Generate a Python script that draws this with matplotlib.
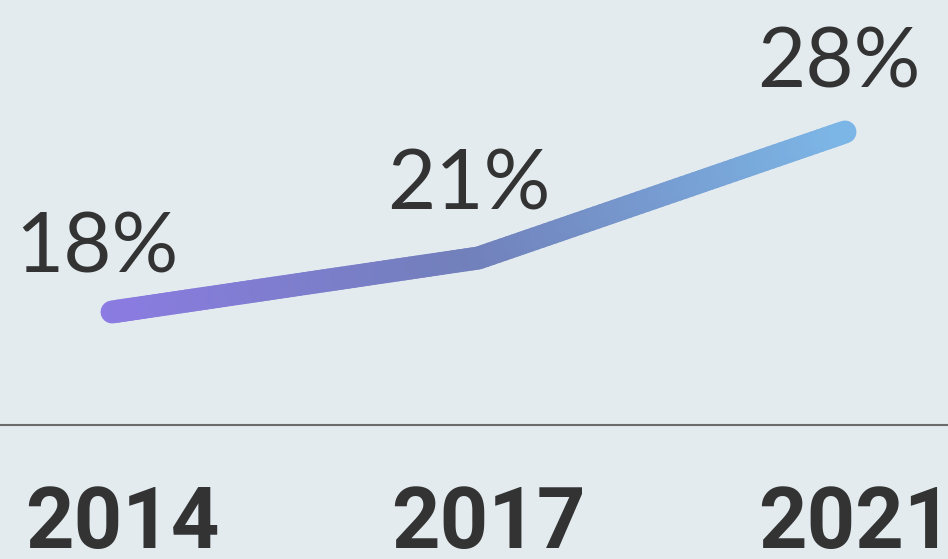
import numpy as np
import matplotlib
matplotlib.use("Agg")
import matplotlib.pyplot as plt
from matplotlib.collections import LineCollection
from matplotlib.colors import LinearSegmentedColormap

# data
years = ["2014", "2017", "2021"]
values = [18, 21, 28]
labels = ["18%", "21%", "28%"]

bg = "#e3ebef"
ink = "#333333"
cmap = LinearSegmentedColormap.from_list(
    "grad", [(0.0, "#8b7be2"), (0.5, "#7180ba"), (1.0, "#7cb6e6")])

fig = plt.figure(figsize=(9.48, 5.59), dpi=100)
fig.patch.set_facecolor(bg)
ax = fig.add_axes([0, 0, 1, 1])
ax.set_facecolor(bg)
ax.set_xlim(-0.3056, 2.281)
ax.set_ylim(4.28, 35.33)
ax.axis("off")

# gradient line: split each leg into short pieces for the colour ramp
xs = np.arange(len(values))
segs, cols = [], []
for i in range(len(values) - 1):
    t = np.linspace(0, 1, 60)
    px = xs[i] + (xs[i + 1] - xs[i]) * t
    py = values[i] + (values[i + 1] - values[i]) * t
    for j in range(len(t) - 1):
        segs.append([(px[j], py[j]), (px[j + 1], py[j + 1])])
        cols.append((px[j] + px[j + 1]) / 2 / xs[-1])
lc = LineCollection(segs, colors=cmap(np.array(cols)), linewidths=16.5,
                    capstyle="round", joinstyle="round")
ax.add_collection(lc)

# value labels (offsets in pixels)
dx = [-15, -10, -6]
dy = [24, 33, 29]
for x, v, lab, ox, oy in zip(xs, values, labels, dx, dy):
    ax.annotate(lab, (x, v), xytext=(ox * 0.72, oy * 0.72),
                textcoords="offset points", ha="center", va="bottom",
                fontsize=60, color=ink, family="Lato")

# baseline
ax.axhline(11.72, color="#6b6b6b", lw=1.5)

# year labels
for x, y in zip(xs, years):
    ax.text(x + 0.028, 0.061, y, transform=ax.get_xaxis_transform(),
            ha="center", va="center", fontsize=61, fontweight="bold",
            color=ink, family="Roboto")

fig.savefig("out.png", dpi=100, facecolor=bg)
